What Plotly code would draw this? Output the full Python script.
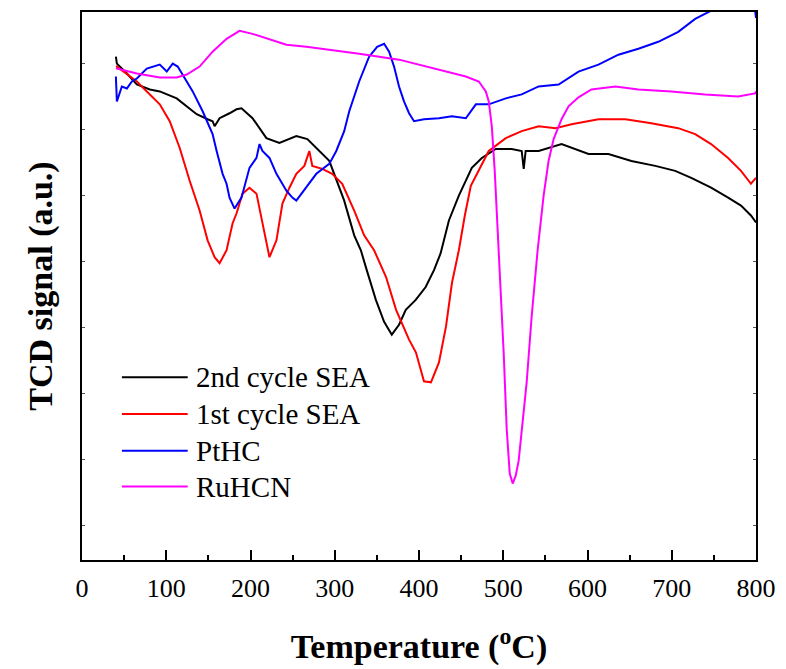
import plotly.graph_objects as go

# ---- data (temperature in °C, TCD signal in a.u.) ----
black_T = [40.2, 41.4, 53.3, 65.1, 80.5, 92.3, 112.4, 136.1, 149.1, 155, 157.4, 163.3, 175.1, 183.4, 189.3,
           202.4, 218.9, 234.3, 254.4, 267.5, 293.5, 311.2, 323.1, 331, 336.9, 348.8, 358.6, 367.7, 376.3,
           384.3, 396.1, 407.9, 417.8, 425.7, 435.5, 447.3, 462.7, 474.6, 491.1, 510, 521.9, 524.3, 526.6,
           542, 569.2, 585.8, 601.2, 624.9, 652.1, 680.5, 704.1, 723.1, 746.7, 766.9, 782.2, 794, 800]
black_S = [507, 500, 490, 479, 474, 472, 465, 449, 444, 442, 437, 445, 450, 454, 455,
           445, 425, 420, 427, 424, 402, 362, 327, 312, 295, 262, 240, 227, 237,
           252, 262, 275, 292, 309, 342, 367, 395, 405, 414, 414, 412, 394, 412,
           412, 419, 414, 409, 409, 402, 397, 392, 385, 375, 365, 357, 347, 340]

red_T = [40.2, 41.4, 65.1, 80.5, 92.3, 104.1, 116, 127.8, 139.6, 149.1, 157.4, 163.3, 171.6, 178.7, 183.4,
         190.5, 198.8, 207.1, 214.2, 222.5, 230.8, 237.9, 246.2, 254.4, 263.9, 269.8, 273.4, 285.2, 297,
         308.9, 323.1, 334.9, 346.7, 360.9, 372.8, 388.2, 396.4, 405.9, 414.2, 423.7, 432, 439.1, 447.3,
         454.4, 461.5, 471, 482.8, 503, 521.9, 542, 562.1, 581.1, 613, 645, 675.7, 707.7, 727.8, 746.7,
         766.9, 782.2, 794, 800]
red_S = [497, 497, 482, 469, 459, 442, 415, 382, 352, 322, 305, 299, 312, 339, 349,
         369, 375, 369, 339, 305, 322, 359, 375, 389, 397, 412, 397, 394, 389,
         379, 352, 327, 312, 285, 252, 222, 209, 180, 179, 199, 235, 279, 312,
         347, 377, 392, 412, 425, 432, 437, 435, 439, 444, 444, 440, 435, 429, 419,
         405, 392, 379, 385]

blue_T = [40.2, 41.4, 47.3, 53.3, 59.2, 65.1, 76.9, 92.3, 100.6, 107.7, 113.6, 119.5, 131.4, 143.2, 155,
          159.8, 166.9, 171.6, 175.1, 181.1, 189.3, 198.8, 207.1, 210.7, 214.2, 222.5, 230.8, 242.6, 249.7,
          254.4, 266.3, 278.1, 293.5, 301.8, 311.2, 317.2, 329, 340.8, 350.3, 358.6, 364.5, 370.4, 376.3,
          382.2, 388.2, 394.1, 405.9, 423.7, 439.1, 455.6, 467.5, 482.8, 503, 521.9, 542, 565.7, 589.3,
          613, 636.7, 660.4, 684, 707.7, 727.8, 743.2, 755, 778.7, 796.4, 800]
blue_S = [487, 462, 477, 475, 482, 485, 495, 499, 492, 500, 497, 489, 472, 452, 429,
          412, 389, 379, 365, 354, 365, 395, 405, 419, 412, 405, 389, 372, 365,
          362, 375, 389, 399, 412, 432, 452, 482, 507, 517, 520, 512, 497, 477,
          462, 450, 442, 444, 445, 447, 445, 459, 459, 465, 469, 477, 479, 492,
          499, 509, 515, 522, 532, 545, 552, 557, 567, 572, 546]

mag_T = [40.2, 41.4, 65.1, 92.3, 112.4, 124.3, 139.6, 155, 171.6, 187, 202.4, 226, 242.6, 266.3, 293.5,
         329, 376.3, 423.7, 455.6, 471, 479.3, 482.8, 486.4, 489.9, 493.5, 497, 500.6, 504.1, 507.7,
         511.2, 514.8, 518.3, 523.1, 527.8, 533.7, 540.8, 547.9, 553.8, 559.8, 569.2, 577.5, 589.3,
         604.7, 633.1, 660.4, 699.4, 739.6, 778.7, 798.8, 800]
mag_S = [495, 495, 490, 486, 486, 489, 497, 512, 525, 533, 530, 524, 519, 517, 514,
         510, 504, 494, 487, 482, 472, 462, 437, 392, 332, 267, 207, 132, 87,
         77, 85, 100, 137, 179, 245, 312, 367, 402, 424, 444, 457, 466,
         474, 477, 474, 472, 469, 467, 470, 472]

series_names = ["2nd cycle SEA", "1st cycle SEA", "PtHC", "RuHCN"]
series_x = [black_T, red_T, blue_T, mag_T]
series_y = [black_S, red_S, blue_S, mag_S]
series_colors = ["#000000", "#ff0000", "#0000ff", "#ff00ff"]

x_ticks = [0, 100, 200, 300, 400, 500, 600, 700, 800]

FONT = "Liberation Serif"

fig = go.Figure()
for name, xs, ys, col in zip(series_names, series_x, series_y, series_colors):
    fig.add_trace(go.Scatter(x=xs, y=ys, mode="lines", name=name, showlegend=False,
                             line=dict(color=col, width=2)))

# legend drawn inside the plot (line sample + label)
leg_y = [0.3333, 0.2663, 0.1993, 0.1341]
for name, col, yy in zip(series_names, series_colors, leg_y):
    fig.add_shape(type="line", xref="paper", yref="paper", x0=0.0592, x1=0.1568, y0=yy, y1=yy,
                  line=dict(color=col, width=2))
    fig.add_annotation(xref="paper", yref="paper", x=0.1657, y=yy, xanchor="left", yanchor="middle",
                       text=name, showarrow=False, font=dict(family=FONT, size=29, color="black"))

fig.update_layout(
    width=786, height=669,
    margin=dict(l=82, r=28, t=10, b=107),
    paper_bgcolor="white", plot_bgcolor="white",
    font=dict(family=FONT, color="black"),
    showlegend=False,
    xaxis=dict(range=[0, 800], tickvals=x_ticks, ticks="inside", ticklen=10, tickwidth=2,
               tickcolor="black", showline=True, linewidth=2, linecolor="black", mirror=True,
               showgrid=False, zeroline=False, ticklabelstandoff=4,
               tickfont=dict(family=FONT, size=26, color="black"),
               minor=dict(dtick=50, tick0=0, ticks="inside", ticklen=5, tickwidth=2, tickcolor="black"),
               title=dict(text="<b>Temperature (<sup>o</sup>C)</b>", standoff=32,
                          font=dict(family=FONT, size=34, color="black"))),
    yaxis=dict(range=[0, 552], tick0=35, dtick=66.5, ticks="inside", ticklen=3, tickwidth=1,
               tickcolor="#555", showticklabels=False, showline=True, linewidth=2, linecolor="black",
               mirror="ticks", showgrid=False, zeroline=False,
               title=dict(text="<b>TCD signal (a.u.)</b>", standoff=17,
                          font=dict(family=FONT, size=34, color="black"))),
)

fig.write_html("out.html")
